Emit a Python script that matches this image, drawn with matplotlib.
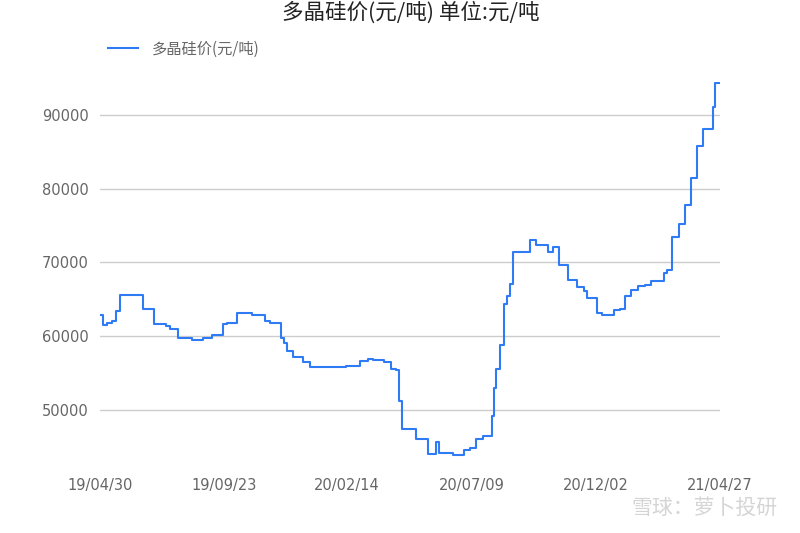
import matplotlib
matplotlib.use("Agg")
import matplotlib.pyplot as plt
import pandas as pd

plt.rcParams["font.family"] = ["Noto Sans CJK SC", "DejaVu Sans"]

# 多晶硅价格 (元/吨) —— 价格变动日及变动后价格
change_dates = [
    "2019-04-30", "2019-05-04", "2019-05-08", "2019-05-14", "2019-05-19", "2019-05-24",
    "2019-06-08", "2019-06-19", "2019-07-02", "2019-07-17", "2019-07-21", "2019-07-31",
    "2019-08-16", "2019-08-29", "2019-09-08", "2019-09-21", "2019-09-26", "2019-10-08",
    "2019-10-26", "2019-11-10", "2019-11-16", "2019-11-29", "2019-12-02", "2019-12-06",
    "2019-12-13", "2019-12-24", "2020-01-02", "2020-02-13", "2020-02-29", "2020-03-10",
    "2020-03-15", "2020-03-28", "2020-04-06", "2020-04-12", "2020-04-15", "2020-04-19",
    "2020-05-05", "2020-05-19", "2020-05-29", "2020-06-01", "2020-06-17", "2020-06-30",
    "2020-07-08", "2020-07-15", "2020-07-23", "2020-08-02", "2020-08-05", "2020-08-07",
    "2020-08-12", "2020-08-16", "2020-08-20", "2020-08-23", "2020-08-27", "2020-09-16",
    "2020-09-23", "2020-10-07", "2020-10-13", "2020-10-20", "2020-10-31", "2020-11-10",
    "2020-11-18", "2020-11-22", "2020-12-03", "2020-12-09", "2020-12-24", "2020-12-30",
    "2021-01-05", "2021-01-13", "2021-01-21", "2021-01-29", "2021-02-05", "2021-02-20",
    "2021-02-24", "2021-03-02", "2021-03-10", "2021-03-17", "2021-03-24", "2021-03-31",
    "2021-04-07", "2021-04-19", "2021-04-21", "2021-04-27",
]
prices = [
    62840, 61450, 61800, 62030, 63380, 65550,
    65640, 63610, 61680, 61350, 60900, 59780,
    59460, 59780, 60100, 61580, 61800, 63070,
    62840, 62030, 61800, 59800, 59010, 57970,
    57160, 56480, 55770, 55900, 56580, 56850,
    56760, 56480, 55500, 55360, 51200, 47400,
    46120, 44000, 45700, 44220, 43900, 44580,
    44900, 46120, 46400, 49170, 53000, 55500,
    58740, 64420, 65410, 67130, 71370, 73090,
    72410, 71370, 72100, 69700, 67580, 66630,
    66090, 65200, 63070, 62800, 63480, 63610,
    65410, 66220, 66760, 66900, 67440, 68570,
    68930, 73460, 75250, 77730, 81430, 85710,
    88060, 91000, 94370, 94370,
]
tick_labels = ["19/04/30", "19/09/23", "20/02/14", "20/07/09", "20/12/02", "21/04/27"]
yticks = [50000, 60000, 70000, 80000, 90000]

dates = pd.to_datetime(change_dates)
tick_dates = pd.to_datetime(tick_labels, format="%y/%m/%d")

fig = plt.figure(figsize=(8, 5.33), dpi=100)
ax = fig.add_axes([0.125, 0.134, 0.775, 0.713])

ax.plot(dates, prices, drawstyle="steps-post", color="#2f7bf6", lw=1.5,
        label="多晶硅价(元/吨)", zorder=3)

ax.set_xlim(dates[0], dates[-1])
ax.set_ylim(43000, 94500)
ax.set_xticks(tick_dates)
ax.set_xticklabels(tick_labels, fontfamily="DejaVu Sans")
ax.set_yticks(yticks)
ax.set_yticklabels([str(v) for v in yticks], fontfamily="DejaVu Sans")
ax.tick_params(axis="both", length=0, labelsize=10.5, labelcolor="#666666")
ax.tick_params(axis="x", pad=12)
ax.tick_params(axis="y", pad=8)
ax.grid(axis="y", color="#cccccc", lw=1.0)
ax.set_axisbelow(True)
for s in ax.spines.values():
    s.set_visible(False)

fig.text(0.513, 0.976, "多晶硅价(元/吨) 单位:元/吨", ha="center", va="center",
         fontsize=15.5, color="#222222")

leg = fig.legend(loc="center left", bbox_to_anchor=(0.127, 0.908), frameon=False,
                 handlelength=2.0, handletextpad=0.9, fontsize=11, borderaxespad=0)
for t in leg.get_texts():
    t.set_color("#666666")

fig.text(0.972, 0.047, "雪球：萝卜投研", ha="right", va="center",
         fontsize=15, color="#d5d5d5")

fig.savefig("out.png", dpi=100)
